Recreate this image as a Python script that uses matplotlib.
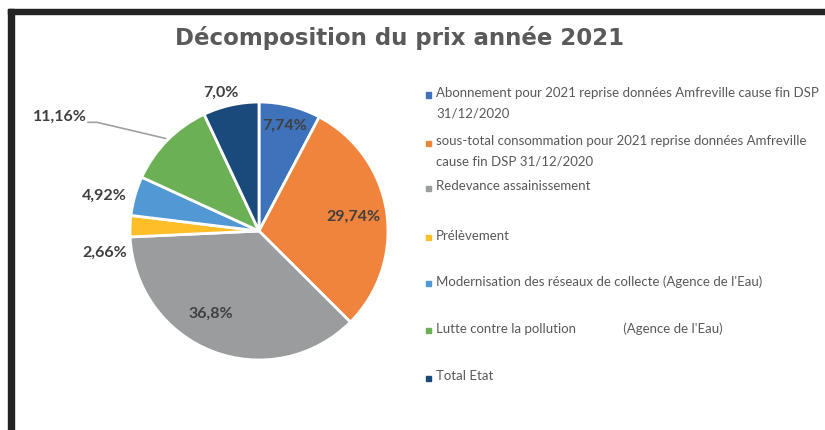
# coding=utf-8

import matplotlib.pyplot as plt
import numpy as np
from matplotlib.patches import Rectangle

# données du graphique
categories = [
    "Abonnement pour 2021 reprise données Amfreville cause fin DSP\n31/12/2020",
    "sous-total consommation pour 2021 reprise données Amfreville\ncause fin DSP 31/12/2020",
    "Redevance assainissement",
    "Prélèvement",
    "Modernisation des réseaux de collecte (Agence de l'Eau)",
    "Lutte contre la pollution              (Agence de l'Eau)",
    "Total Etat",
]
values = [7.74, 29.74, 36.8, 2.66, 4.92, 11.16, 7.0]
colors = ["#3E72BA", "#F0843C", "#9A9C9E", "#FDBE28", "#5298D4", "#6CB056", "#1A4A7C"]

# mise en page (pixels)
W, H = 825, 430
R = 129  # rayon du camembert
cx, cy = 259, H - 231

# position des étiquettes : rayon et décalage d'angle
label_r = [0.84, 0.74, 0.74, 1.21, 1.23, 1.78, 1.11]
label_nudge = [0, 0, -9, 10, 3, 15, 3]
legend_y = [95, 143, 188, 237.5, 283.5, 330, 378]


def main():
    plt.rcParams['font.family'] = ['Lato', 'DejaVu Sans']

    fig = plt.figure(figsize=(W / 100, H / 100), dpi=100)

    ax = fig.add_axes([(cx - 1.8 * R) / W, (cy - 1.5 * R) / H,
                       3.6 * R / W, 3.0 * R / H])
    wedges, _ = ax.pie(values, colors=colors, startangle=90, counterclock=False,
                       wedgeprops=dict(edgecolor='white', linewidth=2))
    ax.set_xlim(-1.8, 1.8)
    ax.set_ylim(-1.5, 1.5)

    # étiquettes de pourcentage
    for i, w in enumerate(wedges):
        mid = (w.theta1 + w.theta2) / 2 + label_nudge[i]
        lx = label_r[i] * np.cos(np.radians(mid))
        ly = label_r[i] * np.sin(np.radians(mid))
        txt = (str(values[i]) + '%').replace('.', ',')
        ax.text(lx, ly, txt, ha='center', va='center', fontsize=11.5,
                fontweight='bold', color='#404040')

    # ligne de rappel pour 11,16%
    w = wedges[5]
    mid = np.radians((w.theta1 + w.theta2) / 2)
    a = np.radians((w.theta1 + w.theta2) / 2 + label_nudge[5])
    lx, ly = label_r[5] * np.cos(a), label_r[5] * np.sin(a)
    ax.plot([lx + 0.22, lx + 0.29, 1.02 * np.cos(mid)],
            [ly - 0.04, ly - 0.04, 1.02 * np.sin(mid)],
            color='#A0A0A0', lw=1.2)

    # légende
    for i, lab in enumerate(categories):
        yc = legend_y[i]
        fig.add_artist(Rectangle((426 / W, 1 - (yc + 2.5) / H), 5 / W, 5 / H,
                                 transform=fig.transFigure, color=colors[i]))
        fig.text(436 / W, 1 - (yc - 8) / H, lab, ha='left', va='top',
                 fontsize=9.5, color='#595959', linespacing=1.8)

    # titre
    fig.text(400 / W, 1 - 38 / H, 'Décomposition du prix année 2021',
             ha='center', va='center', fontsize=16.5, fontweight='bold',
             family='DejaVu Sans', color='#5A5A5A')

    # cadre
    fig.add_artist(Rectangle((8 / W, 0), 6 / W, 1 - 9 / H,
                             transform=fig.transFigure, color='#232323'))
    fig.add_artist(Rectangle((8 / W, 1 - 14 / H), 1, 5 / H,
                             transform=fig.transFigure, color='#232323'))

    fig.savefig('out.png', dpi=100, facecolor='white')


if __name__ == '__main__':
    main()
